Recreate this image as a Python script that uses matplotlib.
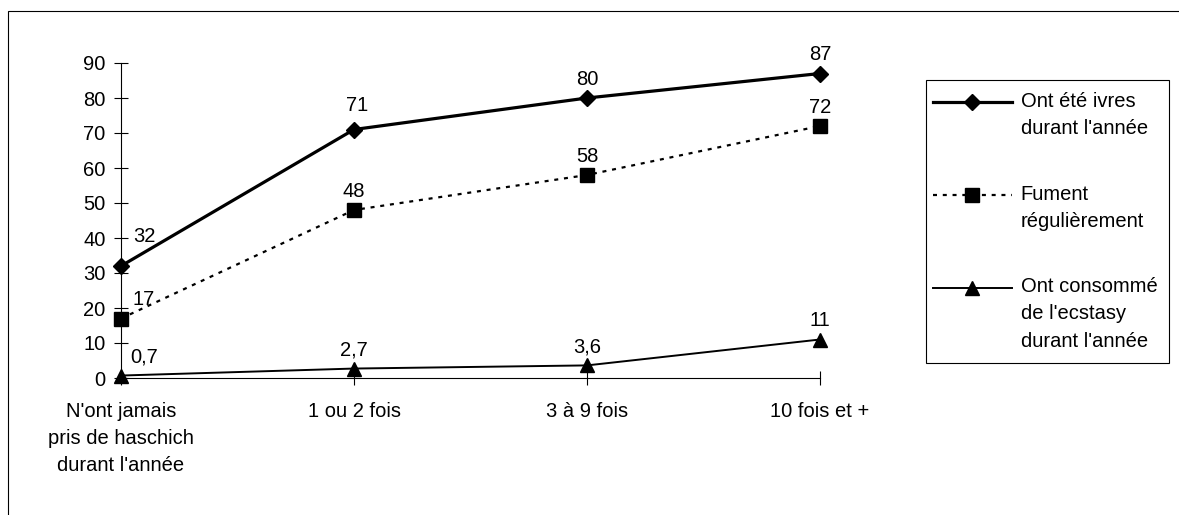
import numpy as np
import matplotlib
matplotlib.use("Agg")
import matplotlib.pyplot as plt
from matplotlib.legend_handler import HandlerLine2D
from matplotlib.patches import Rectangle

plt.rcParams["font.family"] = ["Liberation Sans", "DejaVu Sans"]
plt.rcParams["font.size"] = 14.5

# données
categories = ["N'ont jamais\npris de haschich\ndurant l'année", "1 ou 2 fois", "3 à 9 fois", "10 fois et +"]
ivres = [32, 71, 80, 87]
fument = [17, 48, 58, 72]
ecstasy = [0.7, 2.7, 3.6, 11]
noms = ["Ont été ivres\ndurant l'année", "Fument\nrégulièrement", "Ont consommé\nde l'ecstasy\ndurant l'année"]
y_ticks = [0, 10, 20, 30, 40, 50, 60, 70, 80, 90]

LS = 1.55  # interligne


def fmt(v):
    """format français : virgule décimale"""
    if float(v).is_integer():
        return str(int(v))
    return str(v).replace(".", ",")


class FirstLineHandler(HandlerLine2D):
    """aligne le symbole de légende sur la première ligne du texte"""
    def __init__(self, raise_pt=0, left_pt=0, **kw):
        super().__init__(**kw)
        self.raise_pt = raise_pt
        self.left_pt = left_pt

    def create_artists(self, legend, orig_handle, xdescent, ydescent, width, height, fontsize, trans):
        return super().create_artists(legend, orig_handle, xdescent + self.left_pt,
                                      ydescent - 2 * self.raise_pt, width, height, fontsize, trans)


W, H = 1179, 515
fig = plt.figure(figsize=(W / 100, H / 100), dpi=100)
ax = fig.add_axes([121 / W, 1 - 378 / H, (820 - 121) / W, (378 - 63) / H])

x = np.arange(len(categories))
l1, = ax.plot(x, ivres, color="black", lw=2.3, marker="D", markersize=8, clip_on=False, zorder=4)
l2, = ax.plot(x, fument, color="black", lw=1.6, dashes=(1.8, 2.6), marker="s", markersize=10,
              clip_on=False, zorder=4)
l3, = ax.plot(x, ecstasy, color="black", lw=1.4, marker="^", markersize=10, clip_on=False, zorder=4)

# étiquettes de données
series = [ivres, fument, ecstasy]
special = {(0, 0): (16.5, 21), (0, 1): (2, 17)}
for s, vals in enumerate(series):
    for i, v in enumerate(vals):
        dx, dy = (16.5, 13.5) if i == 0 else (0, 13.5)
        dx, dy = special.get((s, i), (dx, dy))
        ax.annotate(fmt(v), (x[i], v), xytext=(dx, dy), textcoords="offset points",
                    ha="center", va="center", zorder=5)

ax.set_xlim(0, len(categories) - 1)
ax.set_ylim(0, 90)
ax.set_yticks(y_ticks)
ax.set_xticks(x)
ax.set_xticklabels(categories)
for t in ax.get_xticklabels():
    t.set_linespacing(LS)
ax.tick_params(axis="both", direction="inout", length=9.5, width=0.8, colors="black")
ax.tick_params(axis="y", pad=6.5)
ax.tick_params(axis="x", pad=12.5)
for side in ["top", "right"]:
    ax.spines[side].set_visible(False)
for side in ["left", "bottom"]:
    ax.spines[side].set_linewidth(0.8)
ax.patch.set_visible(False)

# légende
line_pt = 26.5 * 0.72
hl = dict(numpoints=1, left_pt=3.6)
leg = fig.legend([l1, l2, l3], noms, loc="upper left",
                 bbox_to_anchor=(926 / W, 1 - 80 / H), bbox_transform=fig.transFigure,
                 borderaxespad=0, borderpad=0.6, handlelength=3.9, handletextpad=0.2,
                 labelspacing=2.3, fancybox=False, framealpha=1, edgecolor="black",
                 handler_map={l1: FirstLineHandler(raise_pt=line_pt / 2, **hl),
                              l2: FirstLineHandler(raise_pt=line_pt / 2, **hl),
                              l3: FirstLineHandler(raise_pt=line_pt, **hl)})
leg.get_frame().set_linewidth(0.8)
for t in leg.get_texts():
    t.set_linespacing(LS)

# cadre extérieur
fig.add_artist(Rectangle((8 / W, -0.1), 1.2, 1 - 11 / H + 0.1, transform=fig.transFigure,
                         fill=False, edgecolor="black", lw=0.8))

fig.savefig("out.png", dpi=100)
